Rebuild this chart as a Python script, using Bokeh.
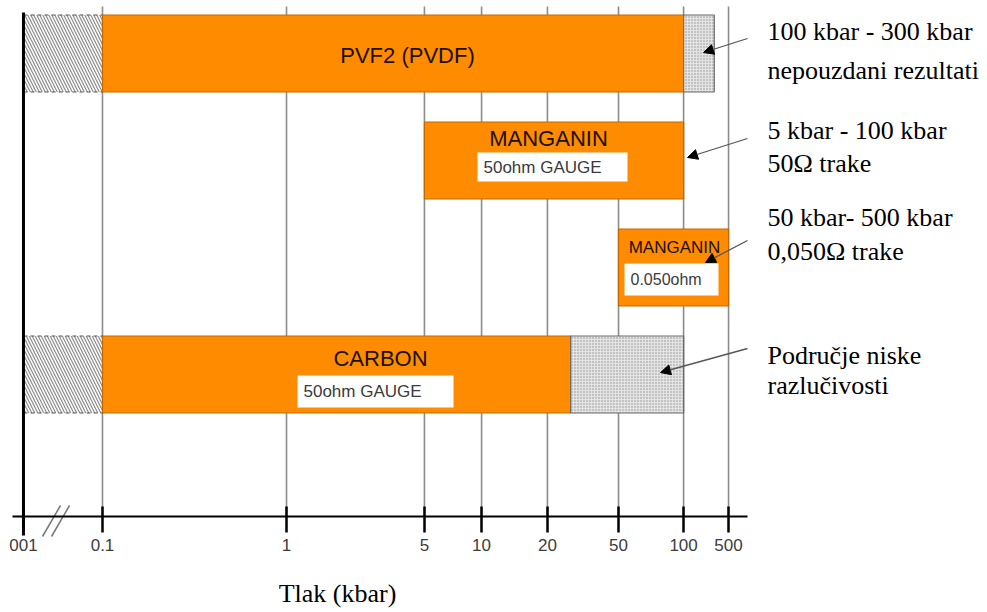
import numpy as np
from bokeh.plotting import figure
from bokeh.models import Range1d, LinearAxis, FixedTicker, Arrow, NormalHead, ColumnDataSource
from bokeh.core.properties import value
from bokeh.embed import file_html
from bokeh.resources import INLINE

# ---------------- data ----------------
TICK_VALUES = [0.01, 0.1, 1, 5, 10, 20, 50, 100, 500]
TICK_LABELS = ["001", "0.1", "1", "5", "10", "20", "50", "100", "500"]

GAUGE_NAMES = ["PVF2 (PVDF)", "MANGANIN", "MANGANIN", "CARBON"]
GAUGE_TYPES = ["", "50ohm GAUGE", "0.050ohm", "50ohm GAUGE"]
GAUGE_ROWS = [0, 1, 2, 3]
GAUGE_FROM = [0.1, 5, 50, 0.1]      # kbar, usable range start
GAUGE_TO = [100, 100, 500, 27]      # kbar, usable range end

UNRELIABLE_ROWS = [0, 3]            # dotted (unreliable / low resolution)
UNRELIABLE_FROM = [100, 27]
UNRELIABLE_TO = [300, 100]

BELOW_ROWS = [0, 3]                 # hatched (below 0.1 kbar)
BELOW_FROM = [0.01, 0.01]
BELOW_TO = [0.1, 0.1]

NOTE_LINES = ["100 kbar - 300 kbar", "nepouzdani rezultati",
              "5 kbar - 100 kbar", "50\u03a9 trake",
              "50 kbar- 500 kbar", "0,050\u03a9 trake",
              "Podru\u010dje niske", "razlu\u010divosti"]
AXIS_TITLE = "Tlak (kbar)"

# ---------------- broken pressure scale ----------------
# axis unit: 0.1 kbar -> 0, 100 kbar -> 3; compressed stretches below 0.1
# and above 100 kbar, as in the original drawing
SCALE_STOPS = [-0.408, 0.0, 0.950, 1.662, 1.957, 2.297, 2.664, 3.0, 3.232]


def pos(v):
    return np.interp(np.log10(np.asarray(v, dtype=float)), np.log10(TICK_VALUES), SCALE_STOPS)


# layout helpers (page pixels -> axis units), used for annotations only
def ux(px):
    return (px - 102.0) / 193.7


def uy(py):
    return (py - 53.0) / 107.0


W, H = 987, 612
p = figure(width=W, height=H, output_backend="svg", toolbar_location=None,
           x_range=Range1d(ux(0), ux(W)), y_range=Range1d(uy(H), uy(0)),
           x_axis_location=None, y_axis_location=None, min_border=0)
p.outline_line_color = None
p.grid.visible = False
p.background_fill_color = "white"

AXIS_Y = uy(516)
TOP_Y = uy(6)

ticks = [round(float(t), 6) for t in pos(TICK_VALUES)]

# vertical grid lines
p.segment(x0=ticks[1:], x1=ticks[1:], y0=[TOP_Y] * (len(ticks) - 1), y1=[AXIS_Y] * (len(ticks) - 1),
          line_color="#8c8c8c", line_width=1.6)

BAR_H = 0.72

# hatched (below range)
p.quad(left=pos(BELOW_FROM), right=pos(BELOW_TO),
       top=[r - BAR_H / 2 for r in BELOW_ROWS], bottom=[r + BAR_H / 2 for r in BELOW_ROWS],
       fill_color="white", hatch_pattern="\\", hatch_color="#8a8a8a", hatch_scale=6, hatch_weight=1.2,
       line_color="#555555", line_dash="4 3", line_width=1.2)

# usable range (orange)
p.quad(left=pos(GAUGE_FROM), right=pos(GAUGE_TO),
       top=[r - BAR_H / 2 for r in GAUGE_ROWS], bottom=[r + BAR_H / 2 for r in GAUGE_ROWS],
       fill_color="#ff8c00", line_color="#c26800", line_width=1.2)

# unreliable range (dotted grey)
p.quad(left=pos(UNRELIABLE_FROM), right=pos(UNRELIABLE_TO),
       top=[r - BAR_H / 2 for r in UNRELIABLE_ROWS], bottom=[r + BAR_H / 2 for r in UNRELIABLE_ROWS],
       fill_color="#e4e4e4", hatch_pattern="dot", hatch_color="#8f8f8f", hatch_scale=3,
       line_color="#6a6a6a", line_width=1.2)

# gauge titles
TITLE_X = [ux(407), ux(548), ux(674), ux(380)]
TITLE_Y = [uy(55), uy(138), uy(247), uy(358)]
TITLE_SIZE = ["22px", "22px", "17px", "22px"]
p.text(source=ColumnDataSource(dict(x=TITLE_X, y=TITLE_Y, t=GAUGE_NAMES, s=TITLE_SIZE)),
       x="x", y="y", text="t", text_font_size="s", text_font=value("Liberation Sans"),
       text_color="#201000", text_align="center", text_baseline="middle")

# white gauge-type boxes
BOX_X = [ux(552), ux(671), ux(375)]
BOX_Y = [uy(166.5), uy(279), uy(391)]
BOX_W = [150, 94, 156]
BOX_H = [29, 32, 32]
BOX_S = ["17px", "16px", "17px"]
p.rect(x=BOX_X, y=BOX_Y, width=BOX_W, height=BOX_H, width_units="screen", height_units="screen",
       fill_color="white", line_color=None)
p.text(source=ColumnDataSource(dict(x=BOX_X, y=BOX_Y, t=GAUGE_TYPES[1:], s=BOX_S,
                                    o=[-w / 2 + 6 for w in BOX_W])),
       x="x", y="y", text="t", x_offset="o", text_font_size="s", text_font=value("Liberation Sans"),
       text_color="#3a3a3a", text_align="left", text_baseline="middle")

# left axis line (0.01 / broken start)
p.segment(x0=[ticks[0]], x1=[ticks[0]], y0=[uy(12)], y1=[uy(535)], line_color="black", line_width=3)

# axis break marks
p.segment(x0=[ux(42), ux(51)], y0=[uy(536), uy(536)], x1=[ux(60), ux(69)], y1=[uy(505), uy(505)],
          line_color="#777777", line_width=1.5)

# x axis
axis = LinearAxis(ticker=FixedTicker(ticks=ticks),
                  major_label_overrides={t: l for t, l in zip(ticks, TICK_LABELS)},
                  fixed_location=AXIS_Y, bounds=(ux(12), ux(747)))
axis.axis_line_color = "black"
axis.axis_line_width = 2
axis.major_tick_line_color = "black"
axis.major_tick_line_width = 2.5
axis.major_tick_in = 10
axis.major_tick_out = 16
axis.minor_tick_line_color = None
axis.major_label_text_font = "Liberation Sans"
axis.major_label_text_font_size = "17px"
axis.major_label_text_color = "#3c3c3c"
axis.major_label_standoff = 6
p.add_layout(axis, "below")

# axis title
p.text(x=[ux(337)], y=[uy(593)], text=[AXIS_TITLE], text_font=value("Liberation Serif"),
       text_font_size="26px", text_color="black", text_align="center", text_baseline="middle")

# notes on the right
NOTE_Y = [uy(v) for v in [31, 70, 130, 163, 217, 251, 355, 385]]
p.text(x=[ux(767)] * len(NOTE_LINES), y=NOTE_Y, text=NOTE_LINES, text_font=value("Liberation Serif"),
       text_font_size="26px", text_color="black", text_align="left", text_baseline="middle")

# arrows
ARROWS = [((747, 38), (703, 52)), ((747, 138), (687, 157)), ((747, 240), (705, 262)), ((747, 348), (660, 372))]
for (sx, sy), (ex, ey) in ARROWS:
    p.add_layout(Arrow(end=NormalHead(size=10, fill_color="black", line_color="black"),
                       x_start=ux(sx), y_start=uy(sy), x_end=ux(ex), y_end=uy(ey),
                       line_color="#555555", line_width=1.3))

open("out.html", "w").write(file_html(p, INLINE))
